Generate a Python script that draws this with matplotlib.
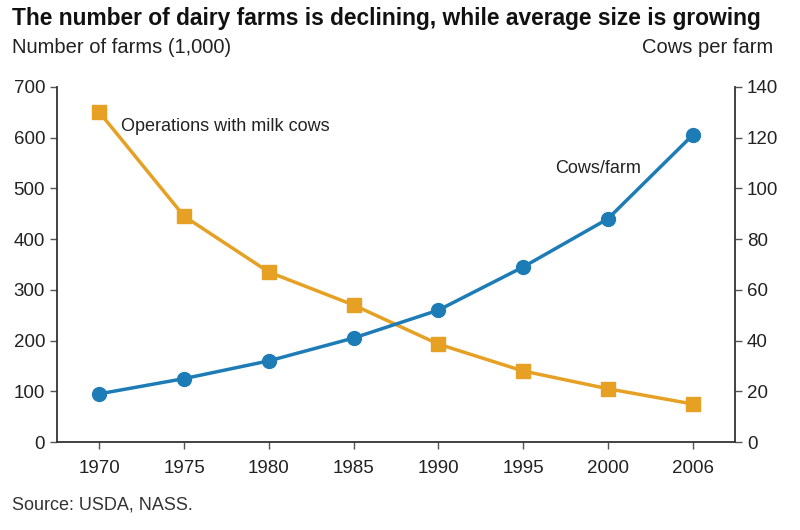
import matplotlib.pyplot as plt

plt.rcParams['font.family'] = ['Liberation Sans', 'DejaVu Sans']

years = ['1970', '1975', '1980', '1985', '1990', '1995', '2000', '2006']
farms = [650, 445, 335, 270, 193, 140, 105, 75]
cows_per_farm = [19, 25, 32, 41, 52, 69, 88, 121]

orange = '#E6A124'
blue = '#1D7CB6'

fig = plt.figure(figsize=(8, 5.3), dpi=100)
ax = fig.add_axes([0.07125, 0.166, 0.8475, 0.670])
ax2 = ax.twinx()

x = range(len(years))
ax.plot(x, farms, color=orange, lw=2.5, marker='s', ms=10, zorder=3)
ax2.plot(x, cows_per_farm, color=blue, lw=2.5, marker='o', ms=10, zorder=3)

ax.set_xlim(-0.5, len(years) - 0.5)
ax.set_ylim(0, 700)
ax2.set_ylim(0, 140)
ax.set_yticks(range(0, 701, 100))
ax2.set_yticks(range(0, 141, 20))
ax.set_xticks(list(x))
ax.set_xticklabels(years)

for a in (ax, ax2):
    a.spines['top'].set_visible(False)
    for s in a.spines.values():
        s.set_color('#333333')
        s.set_linewidth(1.3)
    a.tick_params(length=5, width=1, color='#555555', labelsize=13.5, labelcolor='#222222')
ax.spines['right'].set_visible(False)
ax2.spines['left'].set_visible(False)
ax2.spines['bottom'].set_visible(False)
ax.tick_params(axis='x', pad=8)

ax.text(0.25, 622, 'Operations with milk cows', fontsize=13, color='#222222', va='center')
ax2.text(5.38, 108, 'Cows/farm', fontsize=13, color='#222222', va='center')

fig.text(0.015, 0.965, 'The number of dairy farms is declining, while average size is growing',
         fontsize=16.4, fontweight='bold', va='center', color='#111111')
fig.text(0.015, 0.91, 'Number of farms (1,000)', fontsize=14.5, va='center', color='#222222')
fig.text(0.967, 0.91, 'Cows per farm', fontsize=14.5, va='center', ha='right', color='#222222')
fig.text(0.015, 0.047, 'Source: USDA, NASS.', fontsize=13, va='center', color='#333333')

fig.savefig('out.png', dpi=100)
